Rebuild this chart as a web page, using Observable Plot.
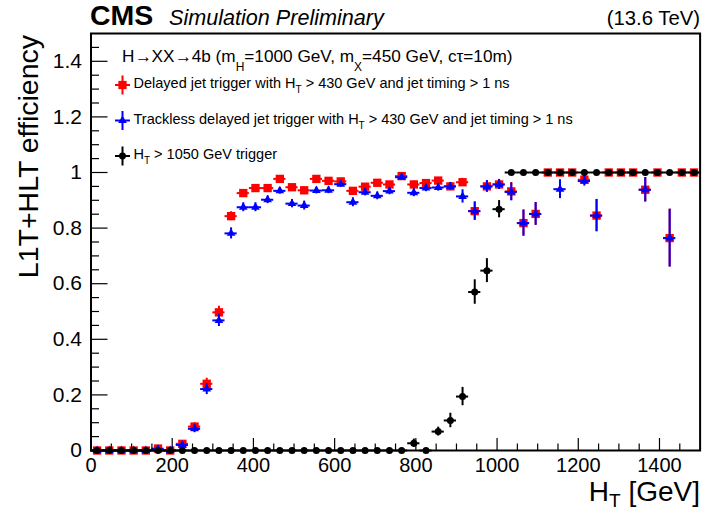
<!DOCTYPE html>
<html>
<head>
<meta charset="utf-8">
<script src="https://cdn.jsdelivr.net/npm/d3@7"></script>
<script src="https://cdn.jsdelivr.net/npm/@observablehq/plot@0.6"></script>
<style>
  html, body { margin: 0; padding: 0; background: #fff; }
  #chart svg { display: block; }
</style>
</head>
<body>
<div id="chart"></div>
<script>
// H_T bin centres (30 GeV bins from 0 to 1500 GeV)
const htBins = [15, 45, 75, 105, 135, 165, 195, 225, 255, 285,
  315, 345, 375, 405, 435, 465, 495, 525, 555, 585,
  615, 645, 675, 705, 735, 765, 795, 825, 855, 885,
  915, 945, 975, 1005, 1035, 1065, 1095, 1125, 1155, 1185,
  1215, 1245, 1275, 1305, 1335, 1365, 1395, 1425, 1455, 1485];
const binHalfWidth = 15;

// Delayed jet trigger (H_T > 430 GeV, jet timing > 1 ns)
const delayedEff = [0, 0, 0, 0, 0, 0.007, 0, 0.024, 0.086, 0.240,
  0.497, 0.843, 0.926, 0.944, 0.944, 0.977, 0.947, 0.936, 0.977, 0.970,
  0.968, 0.934, 0.949, 0.963, 0.957, 0.987, 0.957, 0.962, 0.971, 0.950,
  0.965, 0.861, 0.950, 0.957, 0.932, 0.818, 0.851, 1, 1, 1,
  0.974, 0.845, 1, 1, 1, 0.938, 1, 0.764, 1, 1];
const delayedErr = [0, 0, 0, 0, 0, 0.005, 0, 0.008, 0.014, 0.02,
  0.022, 0.016, 0.012, 0.011, 0.011, 0.008, 0.011, 0.012, 0.008, 0.009,
  0.009, 0.012, 0.011, 0.010, 0.011, 0.007, 0.012, 0.012, 0.011, 0.014,
  0.014, 0.033, 0.021, 0.018, 0.032, 0.047, 0.041, 0, 0, 0,
  0.018, 0.058, 0, 0, 0, 0.044, 0, 0.104, 0, 0];

// Trackless delayed jet trigger (null where the bin is not drawn)
const tracklessEff = [0, 0, 0, 0, 0, 0.005, 0, 0.020, 0.078, 0.221,
  0.468, 0.781, 0.875, 0.875, 0.902, 0.934, 0.888, 0.881, 0.935, 0.936,
  0.958, 0.893, 0.929, 0.916, 0.933, 0.983, 0.927, 0.944, 0.946, 0.950,
  0.914, 0.861, 0.950, 0.957, 0.930, 0.818, 0.851, null, 0.940, null,
  0.969, 0.845, null, null, null, 0.938, null, 0.764, null, null];
const tracklessErr = [0, 0, 0, 0, 0, 0.005, 0, 0.008, 0.014, 0.02,
  0.022, 0.02, 0.016, 0.016, 0.014, 0.012, 0.015, 0.016, 0.012, 0.012,
  0.011, 0.016, 0.013, 0.014, 0.013, 0.008, 0.014, 0.013, 0.013, 0.014,
  0.024, 0.033, 0.021, 0.018, 0.032, 0.047, 0.041, null, 0.034, null,
  0.018, 0.058, null, null, null, 0.044, null, 0.104, null, null];

// H_T > 1050 GeV trigger
const htTrigEff = [0, 0, 0, 0, 0, 0, 0, 0, 0, 0,
  0, 0, 0, 0, 0, 0, 0, 0, 0, 0,
  0, 0, 0, 0, 0, 0, 0.026, 0, 0.068, 0.108,
  0.194, 0.570, 0.647, 0.868, 1, 1, 1, 1, 1, 1,
  1, 1, 1, 1, 1, 1, 1, 1, 1, 1];
const htTrigErr = [0, 0, 0, 0, 0, 0, 0, 0, 0, 0,
  0, 0, 0, 0, 0, 0, 0, 0, 0, 0,
  0, 0, 0, 0, 0, 0, 0.015, 0, 0.016, 0.026,
  0.033, 0.044, 0.043, 0.031, 0, 0, 0, 0, 0, 0,
  0, 0, 0, 0, 0, 0, 0, 0, 0, 0];

// Axis ticks
const xMajorTicks = [0, 200, 400, 600, 800, 1000, 1200, 1400];
const xMinorTicks = [50, 100, 150, 250, 300, 350, 450, 500, 550, 650, 700, 750,
  850, 900, 950, 1050, 1100, 1150, 1250, 1300, 1350, 1450];
const yMajorTicks = [0, 0.2, 0.4, 0.6, 0.8, 1, 1.2, 1.4];
const yMinorTicks = [0.05, 0.1, 0.15, 0.25, 0.3, 0.35, 0.45, 0.5, 0.55, 0.65, 0.7, 0.75,
  0.85, 0.9, 0.95, 1.05, 1.1, 1.15, 1.25, 1.3, 1.35, 1.45];

const RED = "#ff0000", BLUE = "#0000ff", BLACK = "#000000";
const FONT = "'Liberation Sans', Arial, Helvetica, sans-serif";

function rows(eff, err) {
  return htBins.map((x, i) => ({x, v: eff[i], e: err[i]})).filter(d => d.v != null);
}
const delayed = rows(delayedEff, delayedErr);
const trackless = rows(tracklessEff, tracklessErr);
const htTrig = rows(htTrigEff, htTrigErr);

const W = 703, H = 514;
const mL = 90.5, mR = 3.4, mT = 33, mB = 64;
const frameW = W - mL - mR, frameH = H - mT - mB;

function series(data, color, symbol, r) {
  return [
    Plot.ruleY(data, {y: "v", x1: d => d.x - binHalfWidth, x2: d => d.x + binHalfWidth,
      stroke: color, strokeWidth: 2}),
    Plot.ruleX(data.filter(d => d.e > 0), {x: "x", y1: d => d.v - d.e, y2: d => d.v + d.e,
      stroke: color, strokeWidth: 2}),
    Plot.dot(data, {x: "x", y: "v", symbol, r, fill: color, stroke: "none"})
  ];
}

const chart = Plot.plot({
  width: W, height: H,
  marginLeft: mL, marginRight: mR, marginTop: mT, marginBottom: mB,
  style: {fontFamily: FONT, fontSize: "20px", background: "#fff", overflow: "visible"},
  x: {domain: [0, 1500]},
  y: {domain: [0, 1.5]},
  marks: [
    ...series(delayed, RED, "square", 4.7),
    ...series(trackless, BLUE, "triangle", 3.2),
    ...series(htTrig, BLACK, "circle", 3.5),
    // inward ticks
    Plot.ruleX(xMajorTicks, {insetTop: frameH - 12, stroke: BLACK, strokeWidth: 1.2}),
    Plot.ruleX(xMinorTicks, {insetTop: frameH - 6.5, stroke: BLACK, strokeWidth: 1.2}),
    Plot.ruleY(yMajorTicks, {insetRight: frameW - 17, stroke: BLACK, strokeWidth: 1.2}),
    Plot.ruleY(yMinorTicks, {insetRight: frameW - 8.5, stroke: BLACK, strokeWidth: 1.2}),
    Plot.axisX({ticks: xMajorTicks, tickSize: 0, tickPadding: 7, tickFormat: d => String(d),
      fontSize: 20, label: null}),
    Plot.axisY({ticks: yMajorTicks, tickSize: 0, tickPadding: 9, tickFormat: d => String(+d.toFixed(1)),
      fontSize: 21, label: null}),
    Plot.frame({stroke: BLACK, strokeWidth: 2})
  ]
});

document.getElementById("chart").appendChild(chart);

// Annotations: header, axis titles and legend
const svg = d3.select(chart);
const g = svg.append("g").attr("font-family", FONT).attr("fill", BLACK).attr("text-anchor", "start");

g.append("text").attr("x", 90).attr("y", 25).attr("font-size", 28.5).attr("font-weight", "bold").text("CMS");
g.append("text").attr("x", 169).attr("y", 25).attr("font-size", 21.6).attr("font-style", "italic").text("Simulation Preliminary");
g.append("text").attr("x", 700).attr("y", 25).attr("font-size", 20.3).attr("text-anchor", "end").text("(13.6 TeV)");

// y-axis title
g.append("text")
  .attr("transform", "translate(38,35) rotate(-90)")
  .attr("text-anchor", "end").attr("font-size", 28.5)
  .text("L1T+HLT efficiency");

// x-axis title with subscript
const xt = g.append("text").attr("x", 700).attr("y", 501).attr("text-anchor", "end").attr("font-size", 28);
xt.append("tspan").text("H");
xt.append("tspan").attr("font-size", 19).attr("dy", 6).text("T");
xt.append("tspan").attr("dy", -6).text(" [GeV]");

// legend header
const lh = g.append("text").attr("x", 122).attr("y", 62).attr("font-size", 17.2);
lh.append("tspan").text("H\u2192XX\u21924b (m");
lh.append("tspan").attr("font-size", 12).attr("dy", 9).text("H");
lh.append("tspan").attr("dy", -9).text("=1000 GeV, m");
lh.append("tspan").attr("font-size", 12).attr("dy", 9).text("X");
lh.append("tspan").attr("dy", -9).text("=450 GeV, c\u03c4=10m)");

const legendItems = [
  {color: RED, symbol: d3.symbolSquare, size: 68, y: 85, pre: "Delayed jet trigger with H", post: " > 430 GeV and jet timing > 1 ns"},
  {color: BLUE, symbol: d3.symbolTriangle, size: 32, y: 120.5, pre: "Trackless delayed jet trigger with H", post: " > 430 GeV and jet timing > 1 ns"},
  {color: BLACK, symbol: d3.symbolCircle, size: 38, y: 156, pre: "H", post: " > 1050 GeV trigger"}
];
for (const it of legendItems) {
  const lg = g.append("g").attr("transform", `translate(122.5,${it.y})`);
  lg.append("line").attr("x1", -7.5).attr("x2", 7.5).attr("y1", 0).attr("y2", 0).attr("stroke", it.color).attr("stroke-width", 2);
  lg.append("line").attr("x1", 0).attr("x2", 0).attr("y1", -9.5).attr("y2", 9.5).attr("stroke", it.color).attr("stroke-width", 2);
  lg.append("path").attr("d", d3.symbol(it.symbol, it.size)()).attr("fill", it.color);
  const t = g.append("text").attr("x", 133.5).attr("y", it.y + 3).attr("font-size", 14.5);
  t.append("tspan").text(it.pre);
  t.append("tspan").attr("font-size", 10).attr("dy", 5).text("T");
  t.append("tspan").attr("dy", -5).text(it.post);
}
</script>
</body>
</html>
